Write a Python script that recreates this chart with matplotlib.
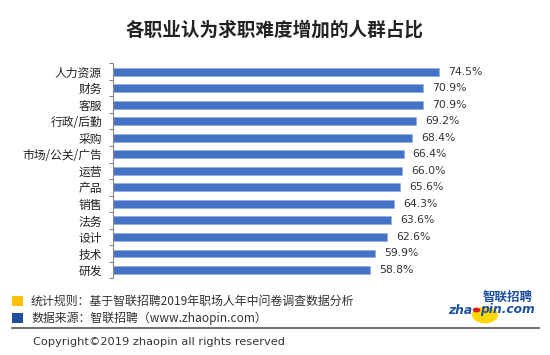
import matplotlib.pyplot as plt
from matplotlib.patches import Rectangle, Circle
from matplotlib.lines import Line2D

# ---- datos ----
categorias = ['人力资源', '财务', '客服', '行政/后勤', '采购', '市场/公关/广告',
              '运营', '产品', '销售', '法务', '设计', '技术', '研发']
valores = [74.5, 70.9, 70.9, 69.2, 68.4, 66.4, 66.0, 65.6, 64.3, 63.6, 62.6, 59.9, 58.8]

titulo = '各职业认为求职难度增加的人群占比'
nota_regla = '统计规则：基于智联招聘2019年职场人年中问卷调查数据分析'
nota_fuente = '数据来源：智联招聘（www.zhaopin.com）'
copyright_txt = 'Copyright©2019 zhaopin all rights reserved'

CJK = ['Noto Sans CJK SC', 'DejaVu Sans']
AZUL = '#4472C4'

W, H = 550, 355
fig = plt.figure(figsize=(W / 100, H / 100), dpi=100)
fig.patch.set_facecolor('white')

def fx(px):
    return px / W

def fy(py):
    return 1 - py / H

# ejes: borde izq. en x=113, categorias de y=63 a y=278
ax = fig.add_axes([fx(113), fy(278.3), fx(350), 215 / H])
pos = list(range(len(categorias)))
ax.barh(pos, valores, height=0.48, color=AZUL, edgecolor='#8FAADC', linewidth=0.4)
ax.set_ylim(len(categorias) - 0.5, -0.5)
ax.set_xlim(0, 80)

for y, v in zip(pos, valores):
    ax.annotate(f'{v:.1f}%', xy=(v, y), xytext=(6.5, 0), textcoords='offset points',
                va='center', ha='left', fontsize=7.8, color='#333333',
                family='DejaVu Sans')

ax.set_yticks(pos)
ax.set_yticklabels(categorias, family=CJK, fontsize=8.5, color='#222222')
ax.set_yticks([p - 0.5 for p in pos] + [len(pos) - 0.5], minor=True)
ax.tick_params(axis='y', which='major', length=0, pad=8)
ax.tick_params(axis='y', which='minor', length=3, color='#888888', width=0.8)
ax.set_xticks([])
for s in ['top', 'right', 'bottom']:
    ax.spines[s].set_visible(False)
ax.spines['left'].set_color('#888888')
ax.spines['left'].set_linewidth(0.8)

# titulo
fig.text(fx(275), fy(30), titulo, ha='center', va='center', fontsize=13.4,
         fontweight='bold', family=CJK, color='#222222')

# pie
fig.patches.append(Rectangle((fx(12), fy(306)), fx(10.5), 10 / H, transform=fig.transFigure,
                             facecolor='#FFC000', edgecolor='none'))
fig.patches.append(Rectangle((fx(12), fy(323)), fx(10.5), 10 / H, transform=fig.transFigure,
                             facecolor='#1F4E9E', edgecolor='none'))
fig.text(fx(31), fy(301), nota_regla, ha='left', va='center', fontsize=8.6,
         family=CJK, color='#333333')
fig.text(fx(31), fy(318), nota_fuente, ha='left', va='center', fontsize=8.6,
         family=CJK, color='#333333')
fig.lines.append(Line2D([fx(12), fx(539)], [fy(328), fy(328)], transform=fig.transFigure,
                        color='#555555', linewidth=1.2))
fig.text(fx(33), fy(342), copyright_txt, ha='left', va='center', fontsize=8.2,
         family='DejaVu Sans', color='#333333')

# logo
fig.patches.append(Circle((fx(485), fy(315)), fx(13), transform=fig.transFigure,
                          facecolor='#FFD600', edgecolor='none'))
fig.patches.append(Circle((fx(476.5), fy(310)), fx(3.8), transform=fig.transFigure,
                          facecolor='#D32020', edgecolor='none'))
fig.text(fx(472), fy(310), 'zha', ha='right', va='center', fontsize=8.8,
         fontweight='bold', style='italic', family='DejaVu Sans', color='#1E50A0')
fig.text(fx(480), fy(310), 'pin.com', ha='left', va='center', fontsize=8.8,
         fontweight='bold', style='italic', family='DejaVu Sans', color='#1E50A0')
fig.text(fx(533), fy(297), '智联招聘', ha='right', va='center', fontsize=9,
         fontweight='bold', style='italic', family=CJK, color='#1E50A0')

fig.savefig('out.png', dpi=100, facecolor='white')
